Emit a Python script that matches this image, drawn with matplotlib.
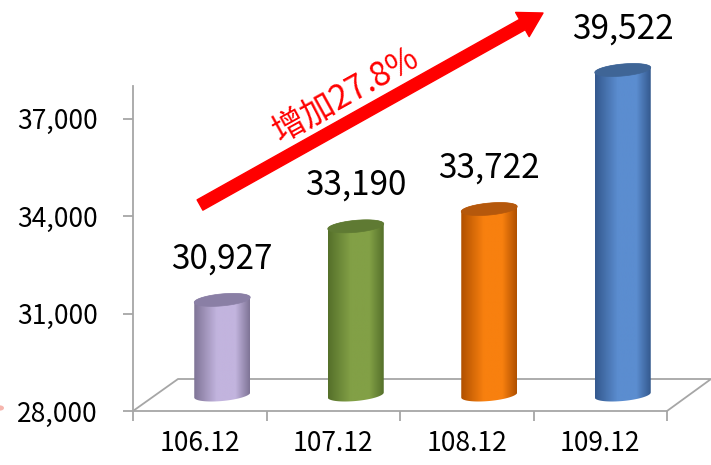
import numpy as np
import matplotlib.pyplot as plt
from matplotlib.path import Path
from matplotlib.patches import PathPatch, Polygon, Circle
from matplotlib.colors import LinearSegmentedColormap

plt.rcParams['font.family'] = ['Noto Sans CJK TC', 'DejaVu Sans']

# ===============================
# Data
# ===============================
categories = ["106.12", "107.12", "108.12", "109.12"]
values = [30927, 33190, 33722, 39522]
value_labels = ["30,927", "33,190", "33,722", "39,522"]
y_ticks = [28000, 31000, 34000, 37000]
growth_text = "增加27.8%"

# cylinder colours: (edge dark, centre light, top cap)
bar_colors = [
    ("#7F7496", "#C2B4DE", "#8A7FA5"),
    ("#55702A", "#82A046", "#5F7A33"),
    ("#B05000", "#F8800F", "#B5580C"),
    ("#34598E", "#5B8DD0", "#3F6596"),
]

Y_MIN, Y_MAX = 28000, 38000
GRAY = "#A6A6A6"

fig = plt.figure(figsize=(7.11, 4.65), dpi=100)
ax = fig.add_axes([133 / 711, 54 / 465, 534 / 711, 325 / 465])
ax.set_xlim(0, 4)
ax.set_ylim(Y_MIN, Y_MAX)

# px -> data helpers
px_x = 4 / 534
px_y = (Y_MAX - Y_MIN) / 325

# ===============================
# Axes styling
# ===============================
for s in ["top", "right"]:
    ax.spines[s].set_visible(False)
for s in ["left", "bottom"]:
    ax.spines[s].set_color(GRAY)
    ax.spines[s].set_linewidth(1.3)

ax.set_yticks(y_ticks)
ax.set_yticklabels([f"{t:,}" for t in y_ticks])
ax.tick_params(axis="y", direction="out", length=7.5, width=1.3, color=GRAY,
               labelsize=19, pad=18)
ax.set_xticks(range(5))
ax.set_xticklabels([])
ax.set_xticks([i + 0.5 for i in range(4)], minor=True)
ax.set_xticklabels(categories, minor=True)
ax.tick_params(axis="x", which="major", direction="out", length=7.5, width=1.3, color=GRAY)
ax.tick_params(axis="x", which="minor", length=0, labelsize=19, pad=14)

# floor (3D depth)
depth_x = 45 * px_x
depth_y = 32 * px_y
floor = [(0, Y_MIN), (depth_x, Y_MIN + depth_y), (4 + 0.33, Y_MIN + depth_y), (4, Y_MIN)]
ax.plot([p[0] for p in floor], [p[1] for p in floor], color=GRAY, lw=1.3, clip_on=False, zorder=1)

# ===============================
# Cylinders
# ===============================
bar_w = 56 * px_x
ell_h = 6 * px_y      # half height of ellipse
tilt = 2.5 * px_y     # slight perspective tilt of the caps
t = np.linspace(0, 2 * np.pi, 100)

for i, (v, lab, cols) in enumerate(zip(values, value_labels, bar_colors)):
    cx = i + 0.5 + depth_x / 2
    base = Y_MIN + depth_y / 2
    top = min(v, Y_MAX) + depth_y / 2   # bar is cut at the axis maximum
    a = bar_w / 2

    # silhouette: bottom half ellipse + sides + top half ellipse
    tb = np.linspace(np.pi, 2 * np.pi, 50)
    tt = np.linspace(0, np.pi, 50)
    xs = np.concatenate([cx + a * np.cos(tb), cx + a * np.cos(tt)])
    ys = np.concatenate([base + ell_h * np.sin(tb) + tilt * np.cos(tb),
                         top + ell_h * np.sin(tt) + tilt * np.cos(tt)])
    patch = PathPatch(Path(np.column_stack([xs, ys])), facecolor="none",
                      edgecolor="none", transform=ax.transData)

    cmap = LinearSegmentedColormap.from_list(
        f"c{i}", [cols[0], cols[1], cols[1], cols[0]], N=256)
    prof = np.linspace(0, 1, 200)
    grad = np.interp(prof, [0, 0.55, 0.65, 1], [0.0, 0.45, 0.55, 1.0])
    im = ax.imshow(grad[None, :], cmap=cmap, aspect="auto",
                   extent=[cx - a, cx + a, base - ell_h - tilt, top + ell_h + tilt],
                   zorder=2)
    im.set_clip_path(patch)
    im.set_clip_box(fig.bbox)

    cap = Polygon(np.column_stack([cx + a * np.cos(t), top + ell_h * np.sin(t) + tilt * np.cos(t)]),
                  closed=True, facecolor=cols[2], edgecolor=cols[2], lw=0.5,
                  zorder=3, clip_on=False)
    ax.add_patch(cap)

    ax.annotate(lab, (cx, top), xytext=(0, 41), textcoords="offset pixels",
                ha="center", va="center", fontsize=24, color="black",
                annotation_clip=False, zorder=5)

# ===============================
# Growth arrow
# ===============================
tail = ((200 - 133) * px_x, Y_MIN + (411 - 205) * px_y)
tip = ((543 - 133) * px_x, Y_MIN + (411 - 13) * px_y)
ax.annotate("", xy=tip, xytext=tail, annotation_clip=False,
            arrowprops=dict(arrowstyle="simple,head_length=1.7,head_width=2.0,tail_width=0.85",
                            mutation_scale=10, color="#FF0000", shrinkA=0, shrinkB=0))
ax.text((346 - 133) * px_x, Y_MIN + (411 - 95) * px_y, growth_text, rotation=29,
        rotation_mode="anchor", ha="center", va="center", fontsize=24,
        color="#FF0000", clip_on=False)

# small leftover mark at left edge
fig.patches.append(Circle((0.0, 57 / 465), 4 / 711, transform=fig.transFigure,
                          facecolor="#F4A399", edgecolor="none", alpha=0.8))

ax.set_xlim(0, 4)
ax.set_ylim(Y_MIN, Y_MAX)
fig.savefig("out.png", dpi=100)
